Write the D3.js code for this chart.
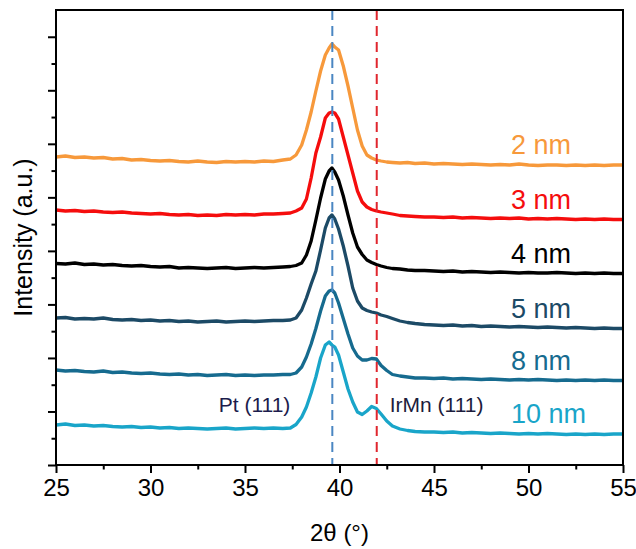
<!DOCTYPE html>
<html><head><meta charset="utf-8">
<script src="https://cdn.jsdelivr.net/npm/d3@7"></script>
<style>body{margin:0;background:#fff} text{font-family:"Liberation Sans",Arial,sans-serif}</style>
</head><body><svg id="c" width="636" height="549"></svg>
<script>
// ---- data ----
const twoTheta = [25,25.5,26,26.5,27,27.5,28,28.5,29,29.5,30,30.5,31,31.5,32,32.5,33,33.5,34,34.5,35,35.5,36,
 36.5,37,37.4,37.7,38.0,38.25,38.5,38.75,39.0,39.25,39.45,39.6,39.75,39.95,40.2,40.45,40.7,40.95,41.2,41.45,41.7,41.95,42.2,42.5,42.8,43.2,43.6,44,44.5,
 45,45.5,46,46.5,47,47.5,48,48.5,49,49.5,50,50.5,51,51.5,52,52.5,53,53.5,54,54.5,55];
const int2nm = [308,309,307.5,308,307,307.5,306,306.5,305,305.5,304.5,304,304.5,303.5,303,304,303,302.5,303.5,303,303.5,303,304,
 303.5,305,306,310,320,335,353,374,394,410,417,421,418,415,399,379,357,335,319,310,307,305,304,303,302.5,302,302.5,301.5,302,
 301,301.5,301,300.5,301,300.5,300,300.5,300,301,300,299.5,300,300,299.5,300,299.5,300,299.5,300,300];
const int3nm = [255,254,254.5,253.5,254,253,252.5,253,252,251.5,251,251.5,250.5,250,250.5,249.5,250,249.5,250.5,250,250.5,250,251,
 251,251.5,252,254,257,266,287,312,328,347,352,353,352,346,328,310,292,274,263,258,255.5,254,253,252,251,249.5,249,248.5,248,
 248,247.5,248,247,247.5,247,246.5,247,246.5,247,246,246.5,246,246.5,246,245.5,246,245.5,246,245.5,245.5];
const int4nm = [201.5,201,202,200.5,201,200,200.5,199.5,199,199.5,198.5,198,198.5,197,197.5,197,196.5,197,197.5,196.5,197,197.5,197,
 197.5,198,198.5,199.5,202,210,224,245,267,286,294,297,293,285,269,250,232,218,210.5,205,202.5,200.5,199,197.5,196.5,196,195,194.5,194.5,
 194,193.5,194,193,193.5,193,192.5,193,192.5,192,192.5,192,192,192.5,192,191.5,192,191.5,192,191.5,191.5];
const int5nm = [147,147.5,146,146.5,146,147,145.5,145,145.5,144.5,145,144,144.5,143.5,144,143,143.5,144,143,143.5,144,143.5,144,
 144.5,144.5,145,147,155,167,181,194,215,237,247,250,246,236,219,199,177,164,157,154.5,153,152,150,148.5,146.5,144,142.5,141.5,140.5,
 140,139.5,140,139,139.5,138.5,139,138.5,138,138.5,138,137.5,138,137.5,137,137.5,137,136.5,137,136.5,136.5];
const int8nm = [95,94,94.5,93.5,93,94,92.5,93,92,91.5,92,91,90.5,91,90,90.5,89.5,90,90.5,89.5,90,89.5,90,
 90,90.5,90.5,92,98,108,121,136.5,154,169,174,175,172,162,146.5,131,117,109,105,105,106.5,106,99.5,94.5,90.5,89,88,87,87,
 86.5,87,86,86.5,86,85.5,86,85.5,85,85.5,85,85.5,85,84.5,85,84.5,85,84.5,85,84.5,84.5];
const int10nm = [40,41,39.5,40,39,39.5,38.5,38,38.5,37.5,38,37,37.5,36.5,37,36.5,36,36.5,37,36,36.5,37,36.5,
 37,36.5,37,40.5,48,58,72,88,107,120,123,120,118,110,93,76,63,53,50.5,54,58.5,56.5,51,44,39,36,34.5,33.5,33,
 33,32.5,33,32,32.5,32,31.5,32,31.5,31,31.5,31,31.5,31,30.5,31,30.5,31,30.5,31,31];
const seriesNames = ["2 nm","3 nm","4 nm","5 nm","8 nm","10 nm"];
const seriesValues = [int2nm,int3nm,int4nm,int5nm,int8nm,int10nm];
const seriesColors = ["#f7993b","#f50d0d","#000000","#1c4a66","#166b8f","#19a5c9"];
const xTicks = [25,30,35,40,45,50,55];
const xMinorTicks = [27.5,32.5,37.5,42.5,47.5,52.5];
const xDomain = [25,55];
const yMax = 455;
const yDivisions = 17;
const refLines = [{pos:39.62,color:"#4a86c2",label:"Pt (111)"},{pos:41.97,color:"#e0262e",label:"IrMn (111)"}];
const labelTheta = 49.07;

// ---- layout ----
const svg = d3.select("#c");
const L=56,R=623,T=10,B=465;
const x = d3.scaleLinear().domain(xDomain).range([L,R]);
const y = d3.scaleLinear().domain([0,yMax]).range([B,T]);
const step = yMax/yDivisions;
const yMajor = d3.range(0,yDivisions,2).map(i=>i*step);
const yMinor = d3.range(1,yDivisions,2).map(i=>i*step);

const line = d3.line().x((d,i)=>x(twoTheta[i])).y(d=>y(d));
seriesValues.forEach((vals,k)=>{
  svg.append("path").datum(vals).attr("d",line).attr("fill","none")
    .attr("stroke",seriesColors[k]).attr("stroke-width",3.3).attr("stroke-linejoin","round");
  svg.append("text").attr("x",x(labelTheta)).attr("y",y(vals[vals.length-1])-11)
    .attr("font-size",27).attr("fill",seriesColors[k]).text(seriesNames[k]);
});

refLines.forEach(r=>{
  svg.append("line").attr("x1",x(r.pos)).attr("x2",x(r.pos)).attr("y1",T).attr("y2",B)
    .attr("stroke",r.color).attr("stroke-width",2).attr("stroke-dasharray","10,6");
});
svg.append("text").attr("x",x(refLines[0].pos)-42).attr("y",412).attr("text-anchor","end")
  .attr("font-size",21).attr("fill","#1c1c4c").text(refLines[0].label);
svg.append("text").attr("x",x(refLines[1].pos)+13).attr("y",412)
  .attr("font-size",21).attr("fill","#1c1c3c").text(refLines[1].label);

// frame
svg.append("rect").attr("x",L).attr("y",T).attr("width",R-L).attr("height",B-T)
  .attr("fill","none").attr("stroke","#000").attr("stroke-width",2);

function styleAxis(g){ g.select(".domain").remove(); g.selectAll("line").attr("stroke","#000").attr("stroke-width",2); }
svg.append("g").attr("transform",`translate(0,${B})`)
  .call(d3.axisBottom(x).tickValues(xTicks).tickSize(8).tickPadding(6).tickFormat(d3.format("d")))
  .call(styleAxis).selectAll("text").attr("font-size",24).attr("fill","#000").attr("font-family","Liberation Sans, Arial, sans-serif");
svg.append("g").attr("transform",`translate(0,${B})`)
  .call(d3.axisBottom(x).tickValues(xMinorTicks).tickSize(4.5).tickFormat(""))
  .call(styleAxis);
svg.append("g").attr("transform",`translate(${L},0)`)
  .call(d3.axisLeft(y).tickValues(yMajor).tickSize(8).tickFormat(""))
  .call(styleAxis);
svg.append("g").attr("transform",`translate(${L},0)`)
  .call(d3.axisLeft(y).tickValues(yMinor).tickSize(4.5).tickFormat(""))
  .call(styleAxis);

svg.append("text").attr("x",(L+R)/2).attr("y",541).attr("text-anchor","middle")
  .attr("font-size",24).attr("fill","#000").text("2θ (°)");
svg.append("text").attr("transform",`translate(32,${(T+B)/2}) rotate(-90)`).attr("text-anchor","middle")
  .attr("font-size",25).attr("fill","#000").text("Intensity (a.u.)");
</script></body></html>
